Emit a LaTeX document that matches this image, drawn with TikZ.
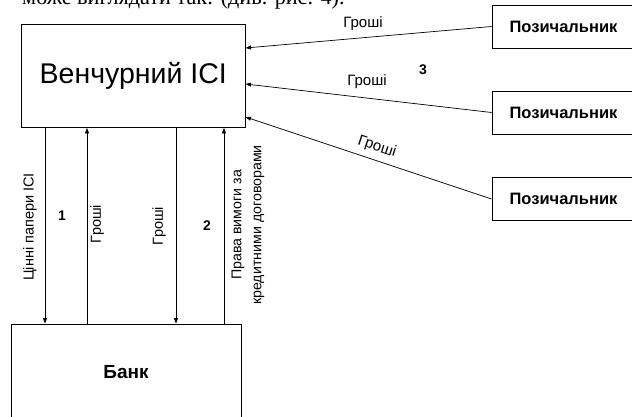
\documentclass[tikz,border=0pt]{standalone}
\usepackage{fontspec}
\setmainfont{Liberation Sans}
\newfontfamily\serifft{Liberation Serif}
\usetikzlibrary{arrows.meta}
\begin{document}
\begin{tikzpicture}[x=1pt,y=-1pt,
  box/.style={draw,line width=0.9pt,inner sep=0pt},
  arr/.style={line width=0.7pt,-{Triangle[length=5.5pt,width=4pt]}},
  lbl/.style={font=\fontsize{14.5}{17}\selectfont,inner sep=0pt},
  hlbl/.style={font=\fontsize{15}{18}\selectfont,inner sep=0pt},
  num/.style={font=\fontsize{14}{17}\selectfont\bfseries,inner sep=0pt},
  pbox/.style={box,minimum width=143pt,minimum height=43pt,font=\fontsize{16.5}{20}\selectfont\bfseries}]
\useasboundingbox (0,0) rectangle (632,417);
\clip (0,0) rectangle (632,417);
% top text (cut off)
\node[anchor=base west,inner sep=0pt,font=\serifft\fontsize{22.2}{26}\selectfont] (top) at (22,5) {може виглядати так: (див. рис. 4).};
% boxes
\node[box,minimum width=224.5pt,minimum height=103.5pt,font=\fontsize{28.5}{34}\selectfont] (v) at (133.25,75.75) {Венчурний ІСІ};
\node[box,minimum width=230pt,minimum height=96pt,font=\fontsize{19}{23}\selectfont\bfseries] (b) at (126,372) {Банк};
\node[pbox] (p1) at (563.5,26.5) {Позичальник};
\node[pbox] (p2) at (563.5,112.5) {Позичальник};
\node[pbox] (p3) at (563.5,199) {Позичальник};
% vertical connectors
\coordinate (c1) at (45,127.5);
\coordinate (c2) at (87,127.5);
\coordinate (c3) at (176,127.5);
\coordinate (c4) at (224,127.5);
\draw[arr] (c1 |- v.south) -- (c1 |- b.north);
\draw[arr] (c2 |- b.north) -- (c2 |- v.south);
\draw[arr] (c3 |- v.south) -- (c3 |- b.north);
\draw[arr] (c4 |- b.north) -- (c4 |- v.south);
% right connectors
\coordinate (e1) at (245.5,48);
\coordinate (e2) at (245.5,84);
\coordinate (e3) at (245.5,117);
\draw[arr] (p1.west) -- (e1);
\draw[arr] (p2.west) -- (e2);
\draw[arr] (p3.west) -- (e3);
% labels
\node[lbl,rotate=90] (l1) at (30,227) {Цінні папери ІСІ};
\node[num] (n1) at (62,216) {1};
\node[lbl,rotate=90] (l2) at (97,224) {Гроші};
\node[lbl,rotate=90] (l3) at (159,226) {Гроші};
\node[num] (n2) at (207,226) {2};
\node[lbl,rotate=90,align=center,font=\fontsize{14.2}{20}\selectfont] (l4) at (248,225) {Права вимоги за\\кредитними договорами};
\node[hlbl] (g1) at (363,24) {Гроші};
\node[hlbl] (g2) at (367,82) {Гроші};
\node[hlbl,rotate=-18] (g3) at (377,147) {Гроші};
\node[num] (n3) at (423,70) {3};
\end{tikzpicture}
\end{document}
